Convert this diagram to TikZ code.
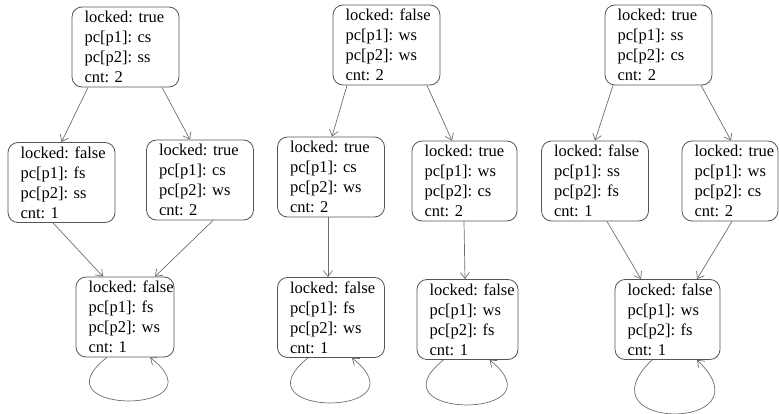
\documentclass[tikz,border=0pt]{standalone}
\usepackage{fontspec}
\setmainfont{Liberation Serif}
\usepackage{tikz}
\usetikzlibrary{arrows.meta}
\definecolor{boxgray}{RGB}{85,85,85}
\definecolor{edgegray}{RGB}{110,110,110}

\begin{document}
\begin{tikzpicture}[x=1pt,y=-1pt,
        >={Straight Barb[length=6pt,width=9pt]},
        state/.style={draw=boxgray, line width=0.8pt, rounded corners=10pt,
            minimum height=80pt, inner xsep=12.5pt, inner ysep=0pt,
            align=left, text width=#1,
            font=\fontsize{16.5}{20}\selectfont\frenchspacing},
        state/.default=82pt,
        trans/.style={->, draw=edgegray, line width=0.7pt}]
        \useasboundingbox (0,0) rectangle (779,414);

        % first run
        \node[state] (A1) at (125.5,47) {locked:~true\\pc[p1]:~cs\\pc[p2]:~ss\\cnt:~2};
        \node[state] (B1) at (61.5,182.5) {locked:~false\\pc[p1]:~fs\\pc[p2]:~ss\\cnt:~1};
        \node[state] (C1) at (200,180) {locked:~true\\pc[p1]:~cs\\pc[p2]:~ws\\cnt:~2};
        \node[state=73pt] (D1) at (125,317) {locked:~false\\pc[p1]:~fs\\pc[p2]:~ws\\cnt:~1};
        \draw[trans] ([xshift=-37.5pt]A1.south) -- (B1.north);
        \draw[trans] ([xshift=36.5pt]A1.south) -- ([xshift=-10pt]C1.north);
        \draw[trans] ([xshift=-8.5pt]B1.south) -- ([xshift=-22pt]D1.north);
        \draw[trans] ([xshift=13pt]C1.south) -- ([xshift=30pt]D1.north);
        \draw[trans] ([xshift=-18pt]D1.south) .. controls +(-75,58) and +(75,58) .. ([xshift=25pt]D1.south);

        % second run
        \node[state] (A2) at (386.5,45) {locked:~false\\pc[p1]:~ws\\pc[p2]:~ws\\cnt:~2};
        \node[state] (B2) at (331,177) {locked:~true\\pc[p1]:~cs\\pc[p2]:~ws\\cnt:~2};
        \node[state=80pt] (C2) at (464.5,181) {locked:~true\\pc[p1]:~ws\\pc[p2]:~cs\\cnt:~2};
        \node[state] (D2) at (331,317.5) {locked:~false\\pc[p1]:~fs\\pc[p2]:~ws\\cnt:~1};
        \node[state=76pt] (E2) at (467.5,319.5) {locked:~false\\pc[p1]:~ws\\pc[p2]:~fs\\cnt:~1};
        \draw[trans] ([xshift=-39.5pt]A2.south) -- ([xshift=1pt]B2.north);
        \draw[trans] ([xshift=40.5pt]A2.south) -- ([xshift=-12.5pt]C2.north);
        \draw[trans] ([xshift=-3pt]B2.south) -- ([xshift=-3pt]D2.north);
        \draw[trans] ([xshift=-0.5pt]C2.south) -- ([xshift=-2.5pt]E2.north);
        \draw[trans] ([xshift=-23pt]D2.south) .. controls +(-75,60) and +(75,60) .. ([xshift=21pt]D2.south);
        \draw[trans] ([xshift=-24pt]E2.south) .. controls +(-75,60) and +(75,60) .. ([xshift=22pt]E2.south);

        % third run
        \node[state] (A3) at (658.5,45) {locked:~true\\pc[p1]:~ss\\pc[p2]:~cs\\cnt:~2};
        \node[state] (B3) at (595,181) {locked:~false\\pc[p1]:~ss\\pc[p2]:~fs\\cnt:~1};
        \node[state=71pt] (C3) at (730,181) {locked:~true\\pc[p1]:~ws\\pc[p2]:~cs\\cnt:~2};
        \node[state=80pt] (D3) at (667.5,319.5) {locked:~false\\pc[p1]:~ws\\pc[p2]:~fs\\cnt:~1};
        \draw[trans] ([xshift=-45.5pt]A3.south) -- (B3.north);
        \draw[trans] ([xshift=42.5pt]A3.south) -- ([xshift=1pt]C3.north);
        \draw[trans] ([xshift=12pt]B3.south) -- ([xshift=-26.5pt]D3.north);
        \draw[trans] ([xshift=2pt]C3.south) -- ([xshift=29.5pt]D3.north);
        \draw[trans] ([xshift=-15.5pt]D3.south) .. controls +(-75,72) and +(75,72) .. ([xshift=29.5pt]D3.south);
    \end{tikzpicture}
\end{document}
